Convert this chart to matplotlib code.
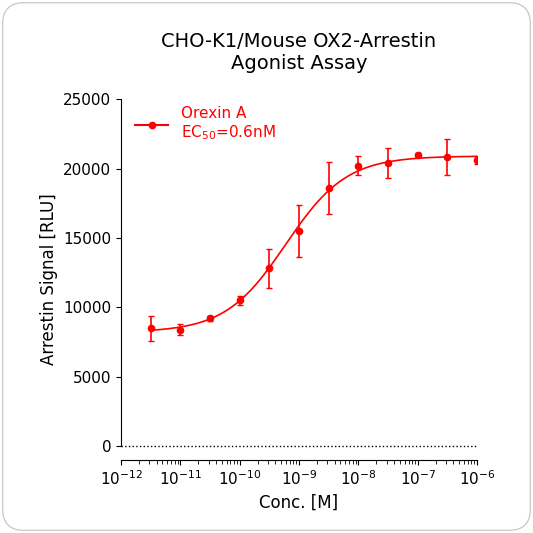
import numpy as np
import matplotlib.pyplot as plt
from matplotlib.patches import FancyBboxPatch

log_conc = [-11.5, -11.0, -10.5, -10.0, -9.5, -9.0, -8.5, -8.0, -7.5, -7.0, -6.5, -6.0]
signal = [8500, 8400, 9200, 10500, 12800, 15500, 18600, 20200, 20400, 21000, 20800, 20600]
err = [900, 400, 200, 300, 1400, 1900, 1900, 700, 1100, 100, 1300, 300]
# 4PL fit parameters
bottom, top, logec50, hill = 8200, 20900, np.log10(0.6e-9), 0.85

fig = plt.figure(figsize=(5.33, 5.33), dpi=100)
fig.patches.append(FancyBboxPatch((0.005, 0.005), 0.99, 0.99, boxstyle="round,pad=0,rounding_size=0.04",
                                  transform=fig.transFigure, fc='white', ec='#cccccc', lw=1, zorder=-10))
ax = fig.add_axes([0.227, 0.137, 0.668, 0.677])
ax.patch.set_alpha(0)
xs = np.linspace(-11.5, -6, 300)
ys = bottom + (top - bottom) / (1 + 10 ** ((logec50 - xs) * hill))
x = 10.0 ** np.array(log_conc)
ax.plot(10 ** xs, ys, color='red', lw=1.2)
ax.errorbar(x, signal, yerr=err, fmt='o', color='red', ms=4.5, capsize=2.5, elinewidth=1.2)
ax.plot([], [], '-o', color='red', ms=4.5, label='Orexin A\nEC$_{50}$=0.6nM')
ax.axhline(0, color='black', ls=':', lw=1)
ax.set_xscale('log')
ax.set_xlim(1e-12, 1e-6)
ax.set_ylim(-1000, 25000)
ax.set_yticks([0, 5000, 10000, 15000, 20000, 25000])
ax.set_xticks([10.0 ** k for k in range(-12, -5)])
ax.spines['top'].set_visible(False)
ax.spines['right'].set_visible(False)
ax.spines['left'].set_bounds(0, 25000)
ax.tick_params(labelsize=11)
ax.tick_params(which='minor', length=3)
ax.set_xlabel('Conc. [M]', fontsize=12)
ax.set_ylabel('Arrestin Signal [RLU]', fontsize=12)
ax.set_title('CHO-K1/Mouse OX2-Arrestin\nAgonist Assay', fontsize=14, pad=22)
leg = ax.legend(loc='upper left', frameon=False, fontsize=11, handlelength=2.2,
                bbox_to_anchor=(0.0, 1.02))
for t in leg.get_texts():
    t.set_color('red')
fig.savefig('out.png', dpi=100)
